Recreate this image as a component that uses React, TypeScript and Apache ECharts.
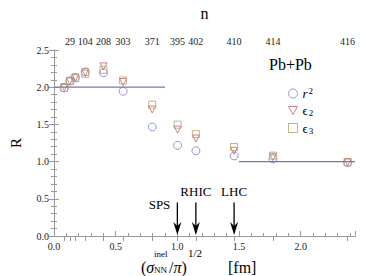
import React, { useEffect, useRef } from "react";
import * as echarts from "echarts";

// sqrt(sigma/pi) positions of the centrality points [fm]
const xVals = [0.083, 0.129, 0.173, 0.253, 0.401, 0.56, 0.796, 1.002, 1.15, 1.46, 1.775, 2.38];
// number of participants shown on the top axis ('' = not labelled)
const nLabels = ["", "29", "", "104", "208", "303", "371", "395", "402", "410", "414", "416"];
// ratios
const rSq = [1.99, 2.085, 2.13, 2.205, 2.195, 1.945, 1.465, 1.218, 1.145, 1.077, 1.038, 0.99];
const eps2 = [2.0, 2.08, 2.13, 2.2, 2.28, 2.07, 1.7, 1.43, 1.31, 1.145, 1.06, 0.99];
const eps3 = [1.99, 2.08, 2.12, 2.18, 2.235, 2.09, 1.765, 1.496, 1.37, 1.196, 1.08, 0.99];
// reference lines
const lineHigh = [[0, 2.0], [0.9, 2.0]];
const lineLow = [[1.5, 1.0], [2.44, 1.0]];
// arrows
const arrowX = [1.0, 1.15, 1.46];
const arrowTop = 0.45;
const arrowLabels = ["SPS", "RHIC", "LHC"];

const SERIF = "Liberation Serif, serif";
const C_CIRC = "#7b7bd2";
const C_TRI = "#c65f80";
const C_SQ = "#b3a260";
const AXIS_C = "#9a9a9a";
const TRI_PATH = "path://M0,0L10,0L5,9Z";

export default function App() {
  const ref = useRef<HTMLDivElement>(null);
  useEffect(() => {
    if (!ref.current) return;
    const chart = echarts.init(ref.current, null, { renderer: "svg" });
    const labelled = xVals.filter((_, i) => nLabels[i] !== "");
    const axisCommon = {
      axisLine: { show: true, lineStyle: { color: AXIS_C, width: 1 } },
      splitLine: { show: false },
    };
    const lbl = { fontFamily: SERIF, fontSize: 10, color: "#222" };
    chart.setOption({
      animation: false,
      grid: { left: 40, right: 19, top: 41, bottom: 40 },
      title: {
        text: "Pb+Pb",
        left: 269,
        top: 56,
        padding: 0,
        textStyle: { fontFamily: SERIF, fontSize: 16, fontWeight: "normal", color: "#000" },
      },
      legend: {
        orient: "vertical",
        left: 283,
        top: 81,
        itemWidth: 9,
        itemHeight: 9,
        itemGap: 4,
        data: [
          { name: "r2", icon: "circle", itemStyle: { color: "transparent", borderColor: C_CIRC, borderWidth: 1 } },
          { name: "e2", icon: TRI_PATH, itemStyle: { color: "transparent", borderColor: C_TRI, borderWidth: 1 } },
          { name: "e3", icon: "rect", itemStyle: { color: "transparent", borderColor: C_SQ, borderWidth: 1 } },
        ],
        formatter: (name: string) =>
          name === "r2" ? "{i|r}{sup|2}" : name === "e2" ? "{n|ϵ}{sub|2}" : "{n|ϵ}{sub|3}",
        textStyle: {
          fontFamily: SERIF,
          fontSize: 13,
          color: "#000",
          rich: {
            i: { fontFamily: SERIF, fontSize: 13, fontStyle: "italic", color: "#000" },
            n: { fontFamily: SERIF, fontSize: 13, color: "#000" },
            sup: { fontFamily: SERIF, fontSize: 9, color: "#000", verticalAlign: "top", padding: [0, 0, 6, 1] },
            sub: { fontFamily: SERIF, fontSize: 9, color: "#000", verticalAlign: "bottom", padding: [5, 0, 0, 1] },
          },
        },
      },
      xAxis: [
        {
          type: "value",
          min: 0,
          max: 2.44,
          interval: 0.5,
          position: "bottom",
          ...axisCommon,
          axisTick: { show: true, inside: true, length: 5, lineStyle: { color: AXIS_C } },
          minorTick: { show: true, splitNumber: 5, length: 3, lineStyle: { color: AXIS_C } },
          axisLabel: { ...lbl, margin: 5, showMaxLabel: false, formatter: (v: number) => v.toFixed(1) },
        },
        {
          type: "value",
          min: 0,
          max: 2.44,
          position: "top",
          name: "n",
          nameLocation: "middle",
          nameGap: 29,
          nameTextStyle: { fontFamily: SERIF, fontSize: 16, color: "#000" },
          ...axisCommon,
          axisTick: { show: true, inside: true, length: 5, customValues: xVals, lineStyle: { color: AXIS_C } },
          axisLabel: {
            ...lbl,
            margin: 4,
            customValues: labelled,
            formatter: (v: number) => {
              let best = 0;
              xVals.forEach((x, i) => {
                if (Math.abs(x - v) < Math.abs(xVals[best] - v)) best = i;
              });
              return nLabels[best];
            },
          },
        },
      ],
      yAxis: [
        {
          type: "value",
          min: 0,
          max: 2.5,
          interval: 0.5,
          position: "left",
          name: "R",
          nameLocation: "middle",
          nameGap: 31,
          nameTextStyle: { fontFamily: SERIF, fontSize: 15, color: "#000" },
          ...axisCommon,
          axisTick: { show: true, inside: true, length: 5, lineStyle: { color: AXIS_C } },
          minorTick: { show: true, splitNumber: 5, length: 3, lineStyle: { color: AXIS_C } },
          axisLabel: { ...lbl, margin: 5, formatter: (v: number) => v.toFixed(1) },
        },
        {
          type: "value",
          min: 0,
          max: 2.5,
          interval: 0.5,
          position: "right",
          ...axisCommon,
          axisTick: { show: true, inside: true, length: 5, lineStyle: { color: AXIS_C } },
          minorTick: { show: true, splitNumber: 5, length: 3, lineStyle: { color: AXIS_C } },
          axisLabel: { show: false },
        },
      ],
      series: [
        {
          type: "line",
          data: lineHigh,
          symbol: "none",
          lineStyle: { color: "#7575c6", width: 1.2 },
          silent: true,
        },
        {
          type: "line",
          data: lineLow,
          symbol: "none",
          lineStyle: { color: "#7575c6", width: 1.2 },
          silent: true,
        },
        {
          name: "r2",
          type: "scatter",
          symbol: "circle",
          symbolSize: 8,
          data: xVals.map((x, i) => [x, rSq[i]]),
          itemStyle: { color: "transparent", borderColor: C_CIRC, borderWidth: 1 },
        },
        {
          name: "e2",
          type: "scatter",
          symbol: TRI_PATH,
          symbolSize: [7, 7],
          data: xVals.map((x, i) => [x, eps2[i]]),
          itemStyle: { color: "transparent", borderColor: C_TRI, borderWidth: 1 },
        },
        {
          name: "e3",
          type: "scatter",
          symbol: "rect",
          symbolSize: 7,
          data: xVals.map((x, i) => [x, eps3[i]]),
          itemStyle: { color: "transparent", borderColor: C_SQ, borderWidth: 1 },
        },
        {
          type: "custom",
          clip: false,
          silent: true,
          data: arrowX.map((x, i) => [x, arrowTop, 0, i]),
          renderItem: (_params: any, api: any) => {
            const x = api.value(0);
            const p0 = api.coord([x, api.value(1)]);
            const p1 = api.coord([x, api.value(2)]);
            const idx = api.value(3);
            const tipY = p1[1] - 1;
            const cx = p0[0];
            return {
              type: "group",
              children: [
                {
                  type: "line",
                  shape: { x1: cx, y1: p0[1], x2: cx, y2: tipY - 8 },
                  style: { stroke: "#000", lineWidth: 1.3 },
                },
                {
                  type: "polygon",
                  shape: { points: [[cx, tipY], [cx - 4, tipY - 13], [cx, tipY - 9], [cx + 4, tipY - 13]] },
                  style: { fill: "#000" },
                },
                {
                  type: "text",
                  style: {
                    text: arrowLabels[idx],
                    x: idx === 0 ? cx - 7 : cx,
                    y: idx === 0 ? p0[1] + 2 : p0[1] - 11,
                    align: idx === 0 ? "right" : "center",
                    verticalAlign: "middle",
                    fontFamily: SERIF,
                    fontSize: 13,
                    fill: "#000",
                  },
                },
              ],
            };
          },
        },
      ],
      graphic: [
        {
          type: "group",
          silent: true,
          children: [
            {
              type: "text",
              x: 141,
              y: 267,
              style: {
                text: "{n|(}{i|σ}",
                verticalAlign: "middle",
                rich: {
                  n: { fontFamily: SERIF, fontSize: 16, fill: "#000" },
                  i: { fontFamily: SERIF, fontSize: 16, fontStyle: "italic", fill: "#000" },
                },
              },
            },
            {
              type: "text",
              x: 154,
              y: 254,
              style: { text: "inel", verticalAlign: "middle", fontFamily: SERIF, fontSize: 9, fill: "#000" },
            },
            {
              type: "text",
              x: 154,
              y: 270,
              style: { text: "NN", verticalAlign: "middle", fontFamily: SERIF, fontSize: 9, fill: "#000" },
            },
            {
              type: "text",
              x: 169,
              y: 267,
              style: {
                text: "{n|/}{i|π}{n|)}",
                verticalAlign: "middle",
                rich: {
                  n: { fontFamily: SERIF, fontSize: 16, fill: "#000" },
                  i: { fontFamily: SERIF, fontSize: 16, fontStyle: "italic", fill: "#000" },
                },
              },
            },
            {
              type: "text",
              x: 188,
              y: 253,
              style: { text: "1/2", verticalAlign: "middle", fontFamily: SERIF, fontSize: 11, fill: "#000" },
            },
            {
              type: "text",
              x: 228,
              y: 267,
              style: { text: "[fm]", verticalAlign: "middle", fontFamily: SERIF, fontSize: 16, fill: "#000" },
            },
          ],
        },
      ],
    });
    return () => chart.dispose();
  }, []);
  return (
    <div
      ref={ref}
      style={{ position: "absolute", left: 0, top: 0, width: 374, height: 276, background: "#fff" }}
    />
  );
}
